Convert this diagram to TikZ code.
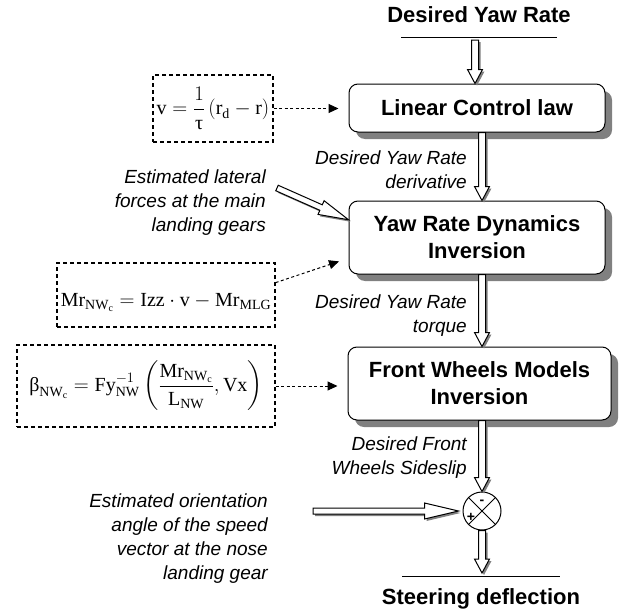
\documentclass[tikz,border=0pt]{standalone}
\usepackage{amsmath}
\usepackage{fontspec}
\setmainfont{Liberation Serif}
\newfontfamily\arial{Liberation Sans}
\usetikzlibrary{calc,shadows,arrows.meta}
\definecolor{shd}{RGB}{128,128,128}
\tikzset{
 blockbox/.style={draw, line width=1pt, rounded corners=9pt, fill=white,
   general shadow={fill=shd, shadow xshift=7pt, shadow yshift=-7pt},
   font=\arial\fontsize{22}{27}\selectfont\bfseries, align=center, inner sep=0pt},
 eqbox/.style={draw, line width=1.2pt, dash pattern=on 4pt off 3pt, inner sep=0pt,
   font=\fontsize{20}{24}\selectfont},
 lbl/.style={font=\arial\fontsize{19}{24}\selectfont\itshape, align=right, anchor=east, inner sep=0pt},
 ttl/.style={font=\arial\fontsize{22}{27}\selectfont\bfseries, inner sep=0pt},
 dasharrow/.style={line width=1pt, dash pattern=on 3pt off 2.5pt,
   -{Triangle[length=10pt,width=9pt]}, shorten >=10pt},
 thinline/.style={line width=1pt},
}
% hollow arrow: [head half width]{start}{end}{shaft half width}{head length}
\newcommand\hollowarrow[5][7.5]{%
  \coordinate (ha) at (#2); \coordinate (hb) at (#3);
  \coordinate (hh) at ($(hb)!#5pt!(ha)$);
  \coordinate (sa) at ($(ha)+(2,2)$); \coordinate (sb) at ($(hb)+(2,2)$);
  \coordinate (sh) at ($(hh)+(2,2)$);
  \fill[shd] ($(sa)!#4pt!90:(sb)$) -- ($(sh)!#4pt!90:(sb)$) -- ($(sh)!#1pt!90:(sb)$)
    -- (sb) -- ($(sh)!#1pt!-90:(sb)$) -- ($(sh)!#4pt!-90:(sb)$) -- ($(sa)!#4pt!-90:(sb)$) -- cycle;
  \filldraw[fill=white, draw=black, line width=1pt, line join=miter]
    ($(ha)!#4pt!90:(hb)$) -- ($(hh)!#4pt!90:(hb)$) -- ($(hh)!#1pt!90:(hb)$)
    -- (hb) -- ($(hh)!#1pt!-90:(hb)$) -- ($(hh)!#4pt!-90:(hb)$) -- ($(ha)!#4pt!-90:(hb)$) -- cycle;
}
\begin{document}
\begin{tikzpicture}[x=1pt,y=-1pt]
\useasboundingbox (0,0) rectangle (624,613);
% titles and lines
\node[ttl] (top) at (479,15) {Desired Yaw Rate};
\coordinate (tl1) at (401,37); \coordinate (tl2) at (557,37);
\draw[thinline] (tl1) -- (tl2);
\node[ttl] (bot) at (481,599) {Steering deflection};
\coordinate (bl1) at (402,576); \coordinate (bl2) at (560,576);
\draw[thinline] (bl1) -- (bl2);
% blocks
\node[blockbox, minimum width=256pt, minimum height=48pt] (b1) at (477,108) {Linear Control law};
\node[blockbox, minimum width=256pt, minimum height=73pt] (b2) at (477,237.5) {Yaw Rate Dynamics\\Inversion};
\node[blockbox, minimum width=263pt, minimum height=73pt] (b3) at (479.5,383.5) {Front Wheels Models\\Inversion};
% summing junction
\node[circle, draw, line width=1pt, minimum size=38pt, inner sep=0pt, fill=white] (sum) at (482,511) {};
\draw[line width=1pt] (sum.north west) -- (sum.south east);
\draw[line width=1pt] (sum.north east) -- (sum.south west);
\node[font=\arial\fontsize{14}{14}\selectfont\bfseries, inner sep=0pt] (minus) at (482,502) {-};
\node[font=\arial\fontsize{14}{14}\selectfont\bfseries, inner sep=0pt] (plus) at (471,517) {+};
% equation boxes
\node[eqbox, minimum width=120pt, minimum height=67pt] (ea) at (213,108.5)
  {$\mathrm{v}=\dfrac{1}{\text{τ}}\left(\mathrm{r}_{\mathrm{d}}-\mathrm{r}\right)$};
\node[eqbox, minimum width=218pt, minimum height=64pt, text height=24pt, text depth=2pt] (eb) at (166,295)
  {$\mathrm{Mr}_{\mathrm{NW}_{\mathrm{c}}}=\mathrm{Izz}\cdot\mathrm{v}-\mathrm{Mr}_{\mathrm{MLG}}$};
\node[eqbox, minimum width=258pt, minimum height=82pt] (ec) at (146,386)
  {$\text{β}_{\mathrm{NW}_{\mathrm{c}}}=\mathrm{Fy}_{\mathrm{NW}}^{-1}\left(\dfrac{\mathrm{Mr}_{\mathrm{NW}_{\mathrm{c}}}}{\mathrm{L}_{\mathrm{NW}}},\mathrm{Vx}\right)$};
% dashed connectors
\draw[dasharrow] (ea.east) -- (ea.east -| b1.west);
\draw[dasharrow] ($(eb.north east)!0.31!(eb.south east)$) -- ($(b2.north west)!0.78!(b2.south west)$);
\draw[dasharrow] (ec.east) -- (ec.east -| b3.west);
% labels
\node[lbl] (l1) at (467,170) {Desired Yaw Rate\\derivative};
\node[lbl] (l2) at (467,316) {Desired Yaw Rate\\torque};
\node[lbl] (l3) at (467,458) {Desired Front\\Wheels Sideslip};
\node[lbl] (l4) at (266,203) {Estimated lateral\\forces at the main\\landing gears};
\node[lbl] (l5) at (268,539) {Estimated orientation\\angle of the speed\\vector at the nose\\landing gear};
% hollow arrows
\coordinate (a1s) at (475,40);
\hollowarrow{a1s}{$(b1.north)+(-2,0)$}{3.5}{14}
\hollowarrow{b1.south -| sum}{b2.north -| sum}{3.5}{14}
\hollowarrow{b2.south -| sum}{b3.north -| sum}{3.5}{14}
\hollowarrow{b3.south -| sum}{sum.north}{3.5}{14}
\hollowarrow{sum.south}{$(sum |- bl1)+(0,-3)$}{3.5}{14}
\coordinate (latsrc) at (277,188);
\hollowarrow[7.5]{latsrc}{$(b2.north west)!0.26!(b2.south west)$}{3}{30}
\coordinate (orsrc) at (313,511);
\coordinate (orend) at ($(sum.west)+(-4,0)$);
\hollowarrow[8]{orsrc}{orend}{3}{34}
\end{tikzpicture}
\end{document}
